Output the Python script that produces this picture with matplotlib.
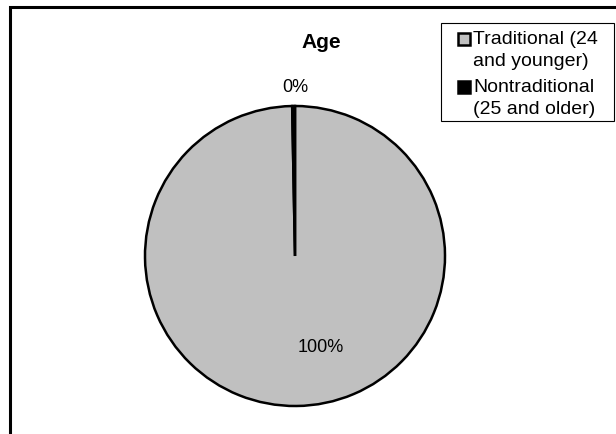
import matplotlib.pyplot as plt
from matplotlib.patches import Rectangle

plt.rcParams['font.family'] = ['Liberation Sans', 'DejaVu Sans']

# data
groups = ['Traditional (24\nand younger)', 'Nontraditional\n(25 and older)']
shares = [99.7, 0.3]
colors = ['#C0C0C0', '#000000']
pct_text = ['100%', '0%']

W, H = 616, 434
fig = plt.figure(figsize=(W / 100, H / 100), dpi=100)


def px(x, y):
    # pixel position (from top-left) -> figure fraction
    return x / W, 1 - y / H


# chart frame (cut off on right and bottom like the original)
fig.patches.append(Rectangle((10 / W, -0.1), 1.2, 1.1 - 7 / H, transform=fig.transFigure,
                             fill=False, edgecolor='black', linewidth=2.2, clip_on=False))

# pie: centre (295, 256) px, radius 150 px
lim = 1.25
side = 150 * lim * 2
cx, cy = 295, H - 256
ax = fig.add_axes([(cx - side / 2) / W, (cy - side / 2) / H, side / W, side / H])
wedges, texts = ax.pie(shares, colors=colors, startangle=90, counterclock=False,
                       wedgeprops=dict(edgecolor='black', linewidth=1.8))
ax.set_xlim(-lim, lim)
ax.set_ylim(-lim, lim)
ax.set_aspect('equal')
ax.axis('off')

# percentage labels
ax.text(0.17, -0.61, pct_text[0], ha='center', va='center', fontsize=13)
ax.text(0.0, 1.12, pct_text[1], ha='center', va='center', fontsize=13)

fig.text(*px(321, 42), 'Age', ha='center', va='center', fontsize=15, fontweight='bold')

# legend box, built by hand so the markers sit on the first text line
x0, y0 = px(441, 23)
x1, y1 = px(614, 121)
fig.patches.append(Rectangle((x0, y1), x1 - x0, y0 - y1, transform=fig.transFigure,
                             fill=False, edgecolor='black', linewidth=0.8))
for i, (lab, c) in enumerate(zip(groups, colors)):
    ty = 39 + i * 48
    mx, my = px(463.5, ty)
    fig.add_artist(plt.Line2D([mx], [my], transform=fig.transFigure, marker='s',
                              markersize=8, markerfacecolor=c, markeredgecolor='black',
                              markeredgewidth=1.8, linestyle='none'))
    for j, line in enumerate(lab.split('\n')):
        fig.text(*px(473, ty + j * 23), line, ha='left', va='center', fontsize=14)

fig.savefig('out.png', dpi=100)
